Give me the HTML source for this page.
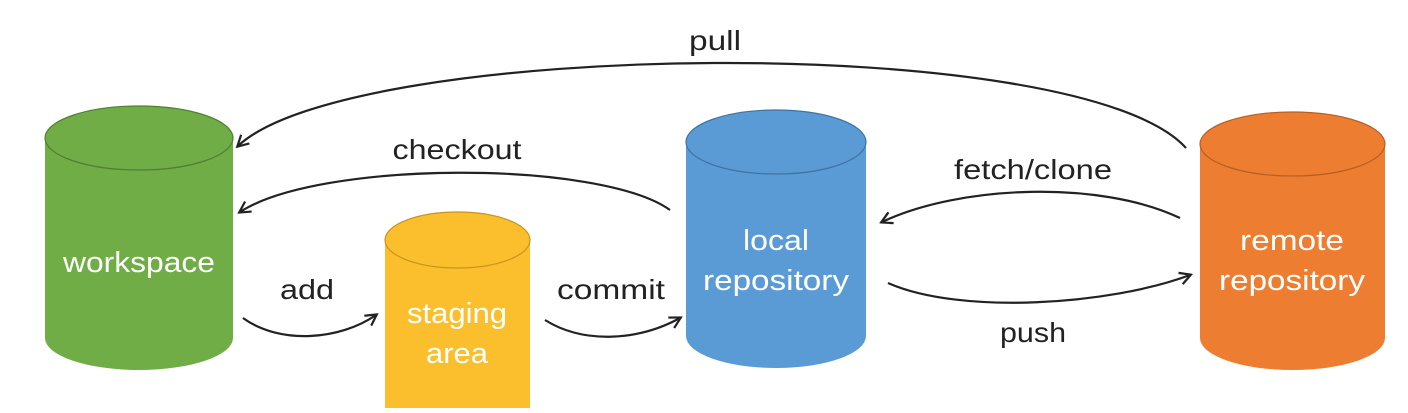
<!DOCTYPE html>
<html><head><style>
body{margin:0;background:#fff;}
svg text{font-family:"Liberation Sans",sans-serif;}
</style></head><body>
<svg width="1408" height="408" viewBox="0 0 1408 408" xmlns="http://www.w3.org/2000/svg">
<defs>
<marker id="a" markerWidth="14" markerHeight="14" refX="11" refY="7" orient="auto" markerUnits="userSpaceOnUse">
<path d="M1,1 L12,7 L1,13" fill="none" stroke="#222" stroke-width="2.2"/>
</marker>
</defs>
<path d="M45,138 L45,338 A94,32 0 0 0 233,338 L233,138 Z" fill="#70ad47"/>
<ellipse cx="139" cy="138" rx="94" ry="32" fill="#70ad47" stroke="#507e33" stroke-width="1.2"/>
<path d="M385,240 L385,408 L530,408 L530,240 Z" fill="#fbbf2d"/>
<ellipse cx="457.5" cy="240" rx="72.5" ry="28" fill="#fbbf2d" stroke="#c7951f" stroke-width="1.2"/>
<path d="M686,142 L686,336 A90,32 0 0 0 866,336 L866,142 Z" fill="#5b9bd5"/>
<ellipse cx="776" cy="142" rx="90" ry="32" fill="#5b9bd5" stroke="#3f73a3" stroke-width="1.2"/>
<path d="M1200,144 L1200,338 A92.5,32 0 0 0 1385,338 L1385,144 Z" fill="#ed7d31"/>
<ellipse cx="1292.5" cy="144" rx="92.5" ry="32" fill="#ed7d31" stroke="#b95f22" stroke-width="1.2"/>

<g fill="#fff" font-size="29" text-anchor="middle" lengthAdjust="spacingAndGlyphs">
<text x="139" y="272" textLength="152" lengthAdjust="spacingAndGlyphs">workspace</text>
<text x="457" y="323" textLength="100" lengthAdjust="spacingAndGlyphs">staging</text>
<text x="457" y="363" textLength="62" lengthAdjust="spacingAndGlyphs">area</text>
<text x="776" y="250" textLength="66" lengthAdjust="spacingAndGlyphs">local</text>
<text x="776" y="290" textLength="146" lengthAdjust="spacingAndGlyphs">repository</text>
<text x="1292" y="250" textLength="104" lengthAdjust="spacingAndGlyphs">remote</text>
<text x="1292" y="290" textLength="146" lengthAdjust="spacingAndGlyphs">repository</text>
</g>
<g fill="#222" font-size="28" text-anchor="middle">
<text x="715" y="50" textLength="52" lengthAdjust="spacingAndGlyphs">pull</text>
<text x="457" y="159" textLength="129" lengthAdjust="spacingAndGlyphs">checkout</text>
<text x="1033" y="179" textLength="158" lengthAdjust="spacingAndGlyphs">fetch/clone</text>
<text x="307" y="299" textLength="54" lengthAdjust="spacingAndGlyphs">add</text>
<text x="611" y="299" textLength="108" lengthAdjust="spacingAndGlyphs">commit</text>
<text x="1033" y="342" textLength="66" lengthAdjust="spacingAndGlyphs">push</text>
</g>
<g fill="none" stroke="#222" stroke-width="2.2" marker-end="url(#a)">
<path d="M1186,148 C1080,30 350,40 238,146"/>
<path d="M670,210 C600,160 320,160 240,212"/>
<path d="M1180,218 C1100,180 960,185 882,222"/>
<path d="M888,283 C960,315 1110,305 1190,275"/>
<path d="M243,318 C280,345 340,340 376,315"/>
<path d="M545,320 C585,345 640,340 680,318"/>
</g>
</svg>
</body></html>
